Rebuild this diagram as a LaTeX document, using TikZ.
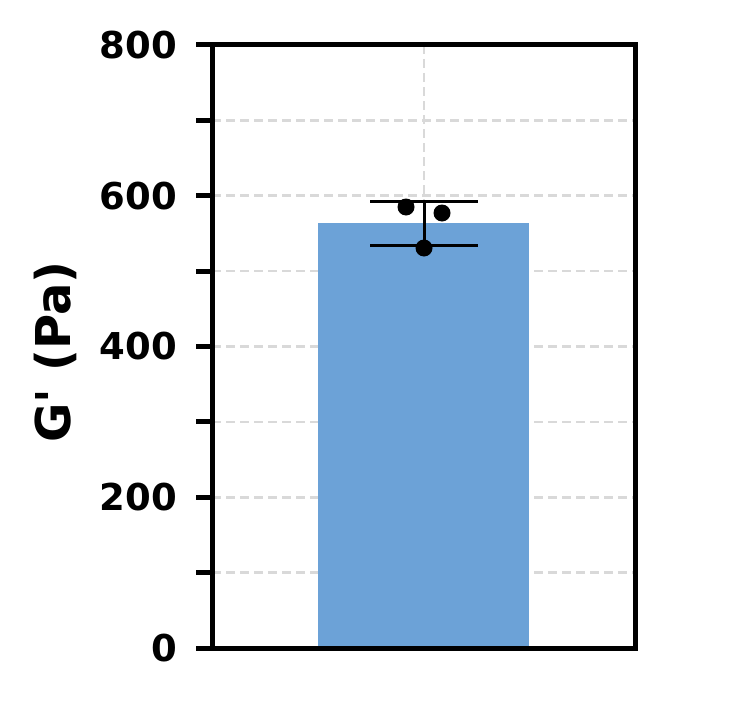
\documentclass[tikz,border=0pt]{standalone}
\usepackage{fontspec}
\setmainfont{DejaVu Sans}
\begin{document}
\begin{tikzpicture}[x=1pt,y=-1pt,
  grid/.style={draw=black!15,line width=2.5pt,dash pattern=on 9pt off 5pt},
  tk/.style={line width=5pt},
  lab/.style={font=\bfseries\fontsize{37}{37}\selectfont,anchor=east,inner sep=0pt}]
\useasboundingbox (0,0) rectangle (755,709);
\foreach \v in {100,200,...,700}{\draw[grid] (212,{648-0.75375*\v}) -- (635,{648-0.75375*\v});}
\draw[grid] (424,45) -- (424,648);
\node[fill={rgb,255:red,108;green,162;blue,215},inner sep=0pt,minimum width=211pt,minimum height=425pt,anchor=south west] (bar) at (318,648) {};
\coordinate (et) at (424,201); \coordinate (eb) at (424,245);
\draw[line width=3pt] (et) -- (eb);
\draw[line width=3pt] (370,201) -- (478,201);
\draw[line width=3pt] (370,245) -- (478,245);
\foreach \x/\y in {406/207,442/213,424/248}{\fill (\x,\y) circle (8.5pt);}
\draw[tk] (212,45) rectangle (635,648);
\foreach \v in {0,100,...,800}{\draw[tk] (196,{648-0.75375*\v}) -- (212,{648-0.75375*\v});}
\foreach \v in {0,200,400,600,800}{\node[lab] (l\v) at (177,{648-0.75375*\v}) {\v};}
\node[font=\bfseries\fontsize{48}{48}\selectfont,rotate=90] (yl) at (55,352) {G\textquotesingle\ (Pa)};
\end{tikzpicture}
\end{document}
